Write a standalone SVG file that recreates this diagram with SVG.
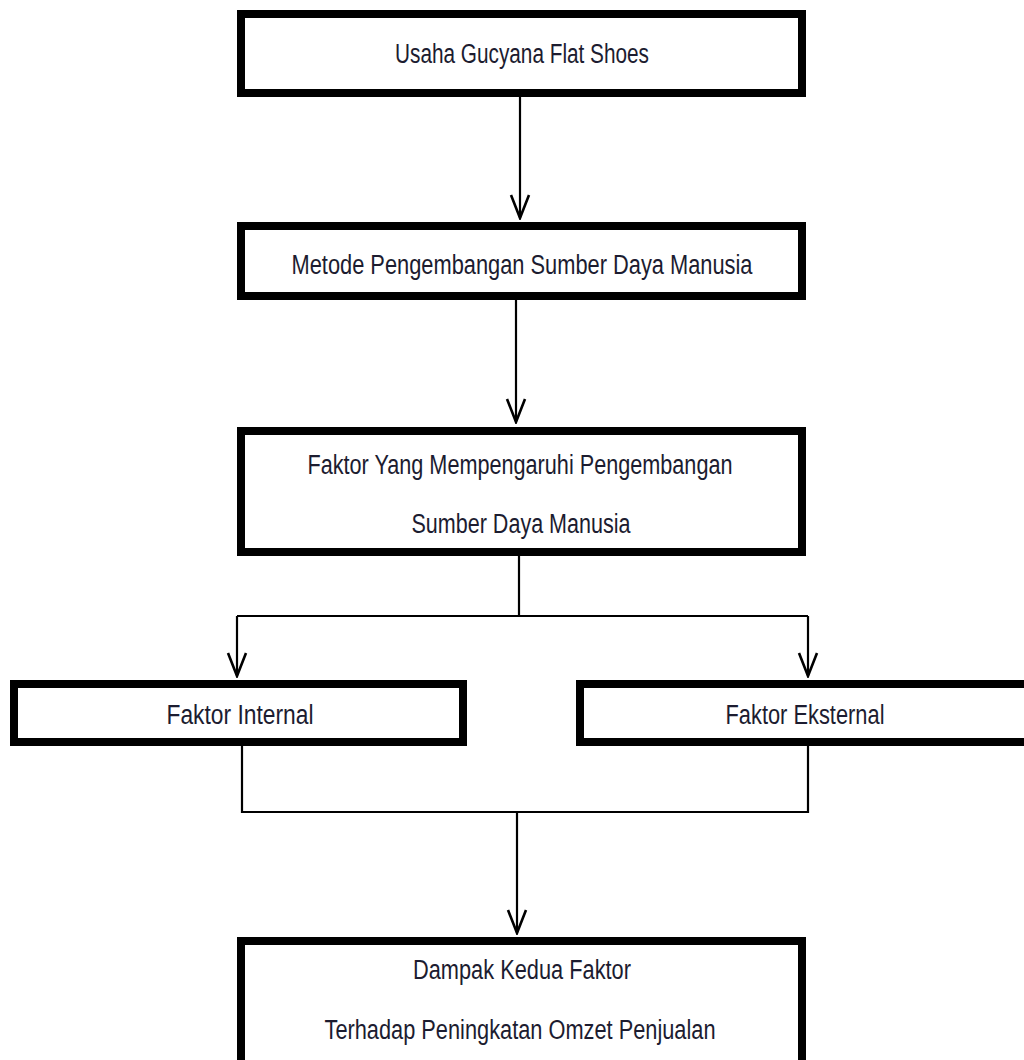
<svg xmlns="http://www.w3.org/2000/svg" width="1024" height="1060" viewBox="0 0 1024 1060">
<style>
.box{fill:#fff;stroke:#000;stroke-width:8}
.t{font-family:"Liberation Sans",Arial,sans-serif;font-size:27px;fill:#1c1c30;text-anchor:middle}
.c{fill:none;stroke:#000;stroke-width:2.2}
</style>
<defs>
<marker id="ah" markerUnits="userSpaceOnUse" markerWidth="26" markerHeight="22" refX="24" refY="10" orient="auto" viewBox="0 0 26 20">
<path d="M1,1 L24,10 L1,19" fill="none" stroke="#000" stroke-width="2.6"/>
</marker>
</defs>
<rect width="1024" height="1060" fill="#fff"/>
<g id="connectors">
<path class="c" d="M520,97 V218" marker-end="url(#ah)"/>
<path class="c" d="M516,300 V422" marker-end="url(#ah)"/>
<path class="c" d="M519,556 V616 M237,616 H808"/>
<path class="c" d="M237,616 V676" marker-end="url(#ah)"/>
<path class="c" d="M808,616 V676" marker-end="url(#ah)"/>
<path class="c" d="M242,746 V812 H808 V746"/>
<path class="c" d="M517,812 V933" marker-end="url(#ah)"/>
</g>
<g id="n1"><rect class="box" x="241" y="14" width="561" height="79"/><text class="t" x="522" y="63" textLength="254" lengthAdjust="spacingAndGlyphs">Usaha Gucyana Flat Shoes</text></g>
<g id="n2"><rect class="box" x="241" y="226" width="561" height="70"/><text class="t" x="522" y="274" textLength="461" lengthAdjust="spacingAndGlyphs">Metode Pengembangan Sumber Daya Manusia</text></g>
<g id="n3"><rect class="box" x="241" y="431" width="561" height="121"/><text class="t" x="520" y="474" textLength="425" lengthAdjust="spacingAndGlyphs">Faktor Yang Mempengaruhi Pengembangan</text><text class="t" x="521" y="533" textLength="219" lengthAdjust="spacingAndGlyphs">Sumber Daya Manusia</text></g>
<g id="n4"><rect class="box" x="14" y="684" width="449" height="58"/><text class="t" x="240" y="724" textLength="147" lengthAdjust="spacingAndGlyphs">Faktor Internal</text></g>
<g id="n5"><rect class="box" x="580" y="684" width="452" height="58"/><text class="t" x="805" y="724" textLength="159" lengthAdjust="spacingAndGlyphs">Faktor Eksternal</text></g>
<g id="n6"><rect class="box" x="241" y="941" width="561" height="130"/><text class="t" x="522" y="979" textLength="218" lengthAdjust="spacingAndGlyphs">Dampak Kedua Faktor</text><text class="t" x="520" y="1039" textLength="391" lengthAdjust="spacingAndGlyphs">Terhadap Peningkatan Omzet Penjualan</text></g>
</svg>
